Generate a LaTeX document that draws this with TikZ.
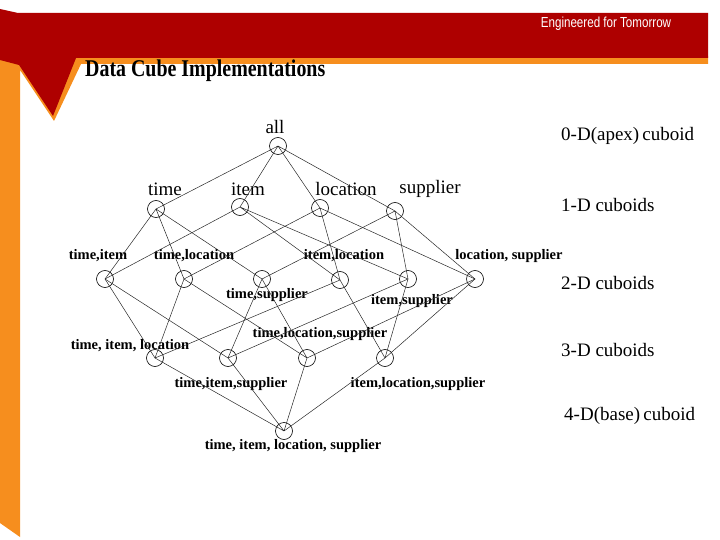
\documentclass[tikz,border=0pt]{standalone}
\usepackage{fontspec}
\setmainfont{Liberation Serif}
\newfontfamily\titlefont[FakeStretch=0.83]{Liberation Serif}
\newfontfamily\bannerfont[FakeStretch=0.8]{Liberation Sans}
\usetikzlibrary{positioning}
\definecolor{bannerred}{RGB}{174,0,0}
\definecolor{bannerorange}{RGB}{246,142,30}

\begin{document}
\begin{tikzpicture}[
  x=1pt, y=-1pt,
  cub/.style={draw, circle, minimum size=17pt, inner sep=0pt, line width=0.6pt},
  dimname/.style={inner sep=0pt, font=\fontsize{19}{22}\selectfont},
  cubname/.style={inner sep=0pt, font=\fontsize{14.5}{17}\selectfont\bfseries},
  levelname/.style={inner sep=0pt, anchor=west, font=\fontsize{19}{22}\selectfont},
  edge/.style={line width=0.5pt, black!85},
]
\useasboundingbox (0,0) rectangle (720,540);

% banner
\fill[bannerorange] (0,56) -- (708,56) -- (708,64) -- (81,64) -- (54,121)
  -- (20,70) -- (20,537) -- (0,523) -- cycle;
\fill[bannerred] (0,9) -- (18,13) -- (708,13) -- (708,58) -- (76,58)
  -- (53,116) -- (19,65) -- (0,60) -- cycle;
\node[inner sep=0pt, text=white, font=\bannerfont\fontsize{14.5}{16}\selectfont]
  (motto) at (606,24) {Engineered for Tomorrow};
\node[inner sep=0pt, anchor=west, font=\titlefont\fontsize{24}{28}\selectfont\bfseries]
  (title) at (85,71) {Data Cube Implementations};

% cuboids
\node[cub] (all) at (278,146) {};
\node[cub] (t) at (156,209) {};
\node[cub] (i) at (240,207) {};
\node[cub] (l) at (320,208) {};
\node[cub] (s) at (395,211) {};
\node[cub] (ti) at (105,279) {};
\node[cub] (tl) at (184,279) {};
\node[cub] (ts) at (262,279) {};
\node[cub] (il) at (340,280) {};
\node[cub] (is) at (408,279) {};
\node[cub] (ls) at (475,279) {};
\node[cub] (til) at (155,358) {};
\node[cub] (tis) at (228,358) {};
\node[cub] (tls) at (307,358) {};
\node[cub] (ils) at (385,358) {};
\node[cub] (tils) at (284,431) {};

% names
\node[dimname] (all-n) at (275,127) {all};
\node[dimname] (t-n) at (165,189) {time};
\node[dimname] (i-n) at (248,189) {item};
\node[dimname] (l-n) at (346,189) {location};
\node[dimname] (s-n) at (430,189) {supplier};
\node[cubname] (ti-n) at (98,256) {time,item};
\node[cubname] (tl-n) at (194,256) {time,location};
\node[cubname] (ts-n) at (267,295) {time,supplier};
\node[cubname] (il-n) at (344,256) {item,location};
\node[cubname] (is-n) at (412,301) {item,supplier};
\node[cubname] (ls-n) at (509,256) {location, supplier};
\node[cubname] (til-n) at (130,346) {time, item, location};
\node[cubname] (tis-n) at (231,384) {time,item,supplier};
\node[cubname] (tls-n) at (320,334) {time,location,supplier};
\node[cubname] (ils-n) at (418,384) {item,location,supplier};
\node[cubname] (tils-n) at (293,446) {time, item, location, supplier};

% levels
\node[levelname] (lv0) at (561,136) {0-D(apex)\,cuboid};
\node[levelname] (lv1) at (561,205) {1-D cuboids};
\node[levelname] (lv2) at (561,283) {2-D cuboids};
\node[levelname] (lv3) at (561,350) {3-D cuboids};
\node[levelname] (lv4) at (564,416) {4-D(base)\,cuboid};

% lattice
\draw[edge] (all.center) -- (t.center) (all.center) -- (i.center)
  (all.center) -- (l.center) (all.center) -- (s.center);
\draw[edge] (t.center) -- (ti.center) (t.center) -- (tl.center) (t.center) -- (ts.center);
\draw[edge] (i.center) -- (ti.center) (i.center) -- (il.center) (i.center) -- (is.center);
\draw[edge] (l.center) -- (tl.center) (l.center) -- (il.center) (l.center) -- (ls.center);
\draw[edge] (s.center) -- (ts.center) (s.center) -- (is.center) (s.center) -- (ls.center);
\draw[edge] (til.center) -- (ti.center) (til.center) -- (tl.center) (til.center) -- (il.center);
\draw[edge] (tis.center) -- (ti.center) (tis.center) -- (ts.center) (tis.center) -- (is.center);
\draw[edge] (tls.center) -- (tl.center) (tls.center) -- (ts.center) (tls.center) -- (ls.center);
\draw[edge] (ils.center) -- (il.center) (ils.center) -- (is.center) (ils.center) -- (ls.center);
\draw[edge] (tils.center) -- (til.center) (tils.center) -- (tis.center)
  (tils.center) -- (tls.center) (tils.center) -- (ils.center);

\end{tikzpicture}
\end{document}
